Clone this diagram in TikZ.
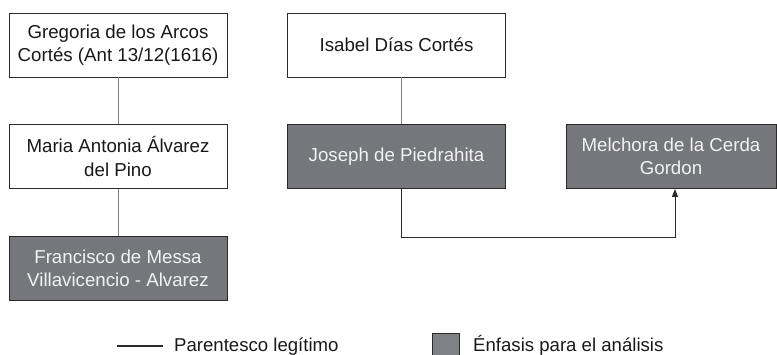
\documentclass[tikz,border=0pt]{standalone}
\usepackage{fontspec}
\setmainfont{Liberation Sans}
\usetikzlibrary{arrows.meta}
\definecolor{boxgray}{HTML}{76777A}
\definecolor{leggray}{HTML}{808185}
\definecolor{edgedark}{HTML}{2A2A2A}
\definecolor{linkgray}{HTML}{808080}
\definecolor{txtlight}{HTML}{F2F2F2}
\begin{document}
\begin{tikzpicture}[x=1pt,y=-1pt,
  person/.style={draw=edgedark, line width=0.9pt, fill=white, minimum width=218pt, minimum height=64pt,
    inner sep=0pt, align=center, text=black!90, font=\fontsize{18.7}{23.3}\selectfont},
  focus/.style={person, fill=boxgray, text=txtlight},
  kin/.style={draw=linkgray, line width=1pt},
  marriage/.style={draw=edgedark, line width=1pt, -{Triangle[length=8pt,width=6pt]}},
  legtext/.style={anchor=base west, inner sep=0pt, font=\fontsize{18.6}{22}\selectfont, text=black!90}]
\clip (0,0) rectangle (777,354);
\fill[white] (0,0) rectangle (777,354);
% left column
\node[person] (G) at (118,45) {Gregoria de los Arcos\\Cortés (Ant 13/12(1616)};
\node[person] (M) at (118,156.5) {Maria Antonia Álvarez\\del Pino};
\node[focus] (F) at (118,268.5) {Francisco de Messa\\Villavicencio - Alvarez};
% middle column
\node[person] (I) at (396.5,45) {Isabel Días Cortés};
\node[focus] (J) at (396.5,156.5) {Joseph de Piedrahita};
% right
\node[focus, minimum width=210pt] (Mel) at (671,156.5) {Melchora de la Cerda\\Gordon};
% connectors
\draw[kin] (G) -- (M);
\draw[kin] (M) -- (F);
\coordinate (xl) at (401,0);
\coordinate (xr) at (675,0);
\coordinate (yb) at (0,237);
\draw[kin] (I.south -| xl) -- (J.north -| xl);
\draw[marriage] (J.south -| xl) -- (yb -| xl) -- (yb -| xr) -- (Mel.south -| xr);
% legend
\coordinate (l1) at (117,346);
\coordinate (l2) at (163,346);
\draw[edgedark, line width=1.4pt] (l1) -- (l2);
\node[legtext] (lt1) at (174,351) {Parentesco legítimo};
\node[draw=edgedark, line width=0.9pt, fill=leggray, minimum width=27pt, minimum height=27pt, inner sep=0pt] (sq) at (445.5,346.5) {};
\node[legtext] (lt2) at (473,351) {Énfasis para el análisis};
\end{tikzpicture}
\end{document}
